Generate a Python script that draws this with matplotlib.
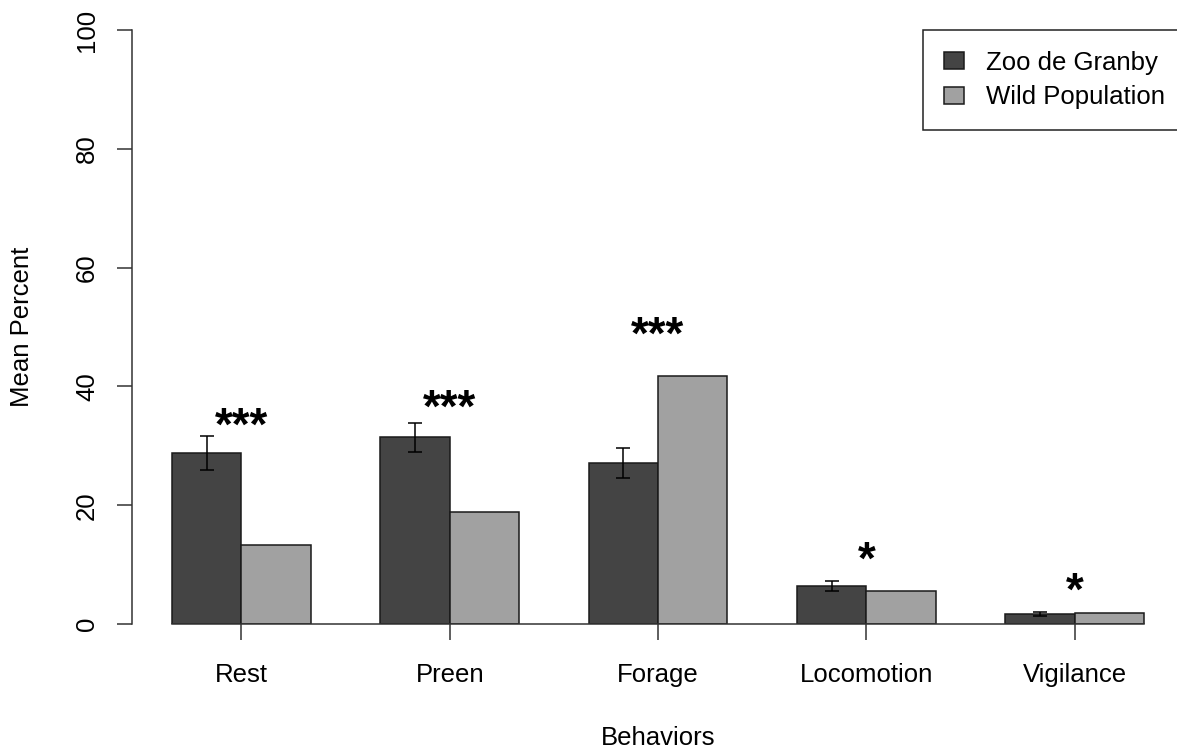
import matplotlib.pyplot as plt
from matplotlib.patches import Patch
import numpy as np

# behaviour budget data
behaviors = ['Rest', 'Preen', 'Forage', 'Locomotion', 'Vigilance']
zoo_mean = [28.8, 31.4, 27.1, 6.4, 1.7]
zoo_se = [2.8, 2.4, 2.6, 0.85, 0.3]
wild_mean = [13.3, 18.9, 41.7, 5.6, 1.9]
sig_labels = ['***', '***', '***', '*', '*']
sig_y = [34.3, 37.2, 49.5, 11.6, 6.4]   # vertical centre of the stars

zoo_col = '#444444'
wild_col = '#a1a1a1'
edge = '#1a1a1a'

plt.rcParams['font.family'] = ['Liberation Sans', 'DejaVu Sans']
fs = 18.5

W, H = 1177, 752
fig = plt.figure(figsize=(W / 100, H / 100), dpi=100)

# axes placed so that bar units map like R's barplot(beside=TRUE)
unit = 69.43
x_left_px, x_right_px = 132, 1177
ax = fig.add_axes([x_left_px / W, (H - 624) / H, (x_right_px - x_left_px) / W, 594 / H])
ax.set_xlim(1 - (172 - x_left_px) / unit, 1 + (x_right_px - 172) / unit)
ax.set_ylim(0, 100)

n = len(behaviors)
zoo_x = 1 + 3 * np.arange(n)
wild_x = zoo_x + 1
centers = zoo_x + 1

ax.bar(zoo_x, zoo_mean, width=1, align='edge', color=zoo_col, edgecolor=edge, linewidth=1.1, zorder=2)
ax.bar(wild_x, wild_mean, width=1, align='edge', color=wild_col, edgecolor=edge, linewidth=1.1, zorder=2)
ax.errorbar(zoo_x + 0.5, zoo_mean, yerr=zoo_se, fmt='none', ecolor='black',
            elinewidth=1.1, capsize=4.7, capthick=1.1, zorder=3)

# baseline under the bars
ax.plot([zoo_x[0], wild_x[-1] + 1], [0, 0], color='#333333', lw=1.1, zorder=4, clip_on=False)

# significance stars
for cx, lab, yy in zip(centers, sig_labels, sig_y):
    ax.text(cx, yy - 3.2, lab, ha='center', va='baseline', fontsize=33, fontweight='bold')

for s in ['top', 'right', 'bottom']:
    ax.spines[s].set_visible(False)
ax.spines['left'].set_bounds(0, 100)
ax.spines['left'].set_color('#333333')
ax.spines['left'].set_linewidth(1.1)

ax.set_yticks([0, 20, 40, 60, 80, 100])
ax.tick_params(axis='y', length=10.8, width=1.1, color='#333333', pad=13, labelsize=fs)
for t in ax.get_yticklabels():
    t.set_rotation(90)
    t.set_va('center')

ax.set_xticks(centers)
ax.set_xticklabels(behaviors)
ax.tick_params(axis='x', length=11.5, width=1.1, color='#333333', pad=16.5, labelsize=fs)

fig.text(658 / W, 1 - 738 / H, 'Behaviors', ha='center', va='center', fontsize=fs)
fig.text(22 / W, 1 - 327 / H, 'Mean Percent', ha='center', va='center', rotation=90, fontsize=fs)

handles = [Patch(facecolor=zoo_col, edgecolor=edge, linewidth=1.1),
           Patch(facecolor=wild_col, edgecolor=edge, linewidth=1.1)]
leg = ax.legend(handles, ['Zoo de Granby', 'Wild Population'], loc='upper left',
                bbox_to_anchor=(923 / W, 1 - 30 / H), bbox_transform=fig.transFigure,
                fontsize=fs, frameon=True, fancybox=False, framealpha=1,
                borderpad=0.8, borderaxespad=0, handlelength=0.8, handleheight=0.62,
                handletextpad=0.85, labelspacing=0.42)
leg.get_frame().set_edgecolor('#222222')
leg.get_frame().set_linewidth(1.1)

fig.savefig('out.png', dpi=100)
